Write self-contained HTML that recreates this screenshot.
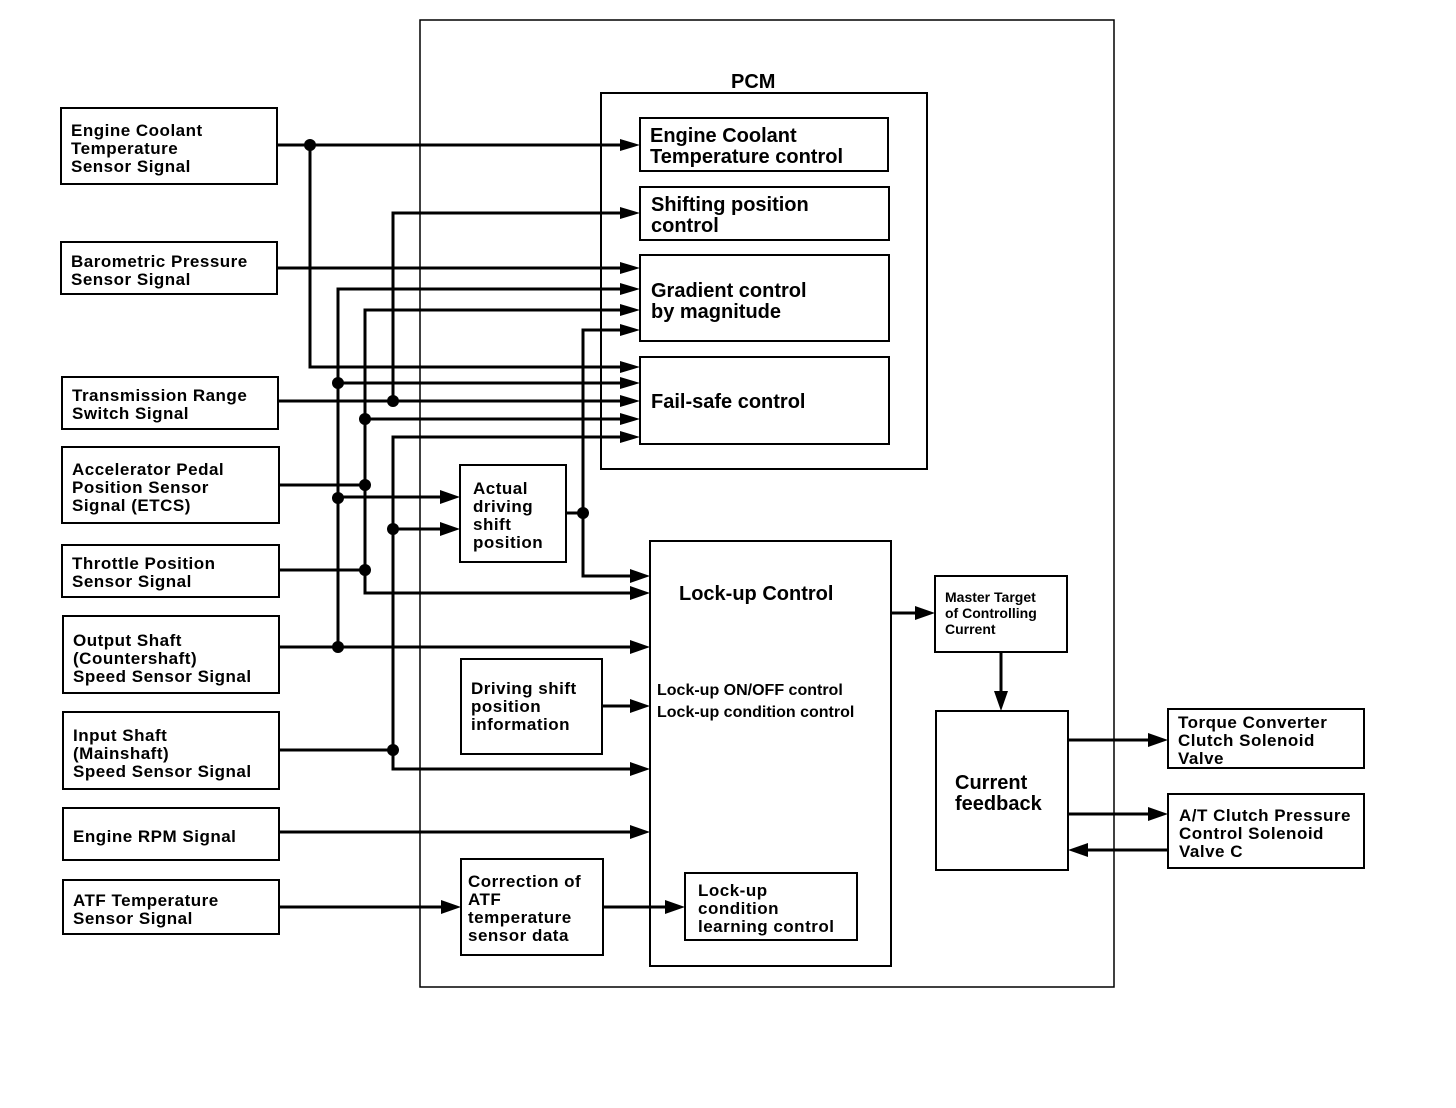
<!DOCTYPE html>
<html><head><meta charset="utf-8"><style>
html,body{margin:0;padding:0;background:#fff;}
svg{display:block;}
text{font-family:"Liberation Sans",Arial,sans-serif;font-weight:bold;fill:#000;}
.s{font-size:17px;letter-spacing:0.5px;}
.m{font-size:20px;}
.t{font-size:14px;}
</style></head><body>
<svg width="1456" height="1108" viewBox="0 0 1456 1108" xmlns="http://www.w3.org/2000/svg">
<g fill="none" stroke="#000" stroke-width="2">
<rect x="420" y="20" width="694" height="967" stroke-width="1.5"/>
<rect x="601" y="93" width="326" height="376"/>
<rect x="640" y="118" width="248" height="53"/>
<rect x="640" y="187" width="249" height="53"/>
<rect x="640" y="255" width="249" height="86"/>
<rect x="640" y="357" width="249" height="87"/>
<rect x="61" y="108" width="216" height="76"/>
<rect x="61" y="242" width="216" height="52"/>
<rect x="62" y="377" width="216" height="52"/>
<rect x="62" y="447" width="217" height="76"/>
<rect x="62" y="545" width="217" height="52"/>
<rect x="63" y="616" width="216" height="77"/>
<rect x="63" y="712" width="216" height="77"/>
<rect x="63" y="808" width="216" height="52"/>
<rect x="63" y="880" width="216" height="54"/>
<rect x="460" y="465" width="106" height="97"/>
<rect x="461" y="659" width="141" height="95"/>
<rect x="461" y="859" width="142" height="96"/>
<rect x="650" y="541" width="241" height="425"/>
<rect x="685" y="873" width="172" height="67"/>
<rect x="935" y="576" width="132" height="76"/>
<rect x="936" y="711" width="132" height="159"/>
<rect x="1168" y="709" width="196" height="59"/>
<rect x="1168" y="794" width="196" height="74"/>
</g>
<g fill="none" stroke="#000" stroke-width="3">
<polyline points="277,145 625,145"/>
<polyline points="310,145 310,367 625,367"/>
<polyline points="277,268 625,268"/>
<polyline points="625,289 338,289 338,647"/>
<polyline points="338,383 625,383"/>
<polyline points="338,497 445,497"/>
<polyline points="625,310 365,310 365,593 635,593"/>
<polyline points="365,419 625,419"/>
<polyline points="279,485 365,485"/>
<polyline points="279,570 365,570"/>
<polyline points="625,213 393,213 393,401"/>
<polyline points="278,401 625,401"/>
<polyline points="625,437 393,437 393,769 635,769"/>
<polyline points="393,529 445,529"/>
<polyline points="279,750 393,750"/>
<polyline points="625,330 583,330 583,576 635,576"/>
<polyline points="566,513 583,513"/>
<polyline points="279,647 635,647"/>
<polyline points="602,706 635,706"/>
<polyline points="279,832 635,832"/>
<polyline points="279,907 445,907"/>
<polyline points="603,907 670,907"/>
<polyline points="891,613 920,613"/>
<polyline points="1001,652 1001,695"/>
<polyline points="1068,740 1152,740"/>
<polyline points="1068,814 1152,814"/>
<polyline points="1168,850 1084,850"/>
</g>
<g fill="#000">
<circle cx="310" cy="145" r="6"/><circle cx="338" cy="383" r="6"/><circle cx="393" cy="401" r="6"/>
<circle cx="365" cy="419" r="6"/><circle cx="365" cy="485" r="6"/><circle cx="338" cy="498" r="6"/>
<circle cx="393" cy="529" r="6"/><circle cx="365" cy="570" r="6"/><circle cx="338" cy="647" r="6"/>
<circle cx="393" cy="750" r="6"/><circle cx="583" cy="513" r="6"/>
<polygon points="620,139 640,145 620,151"/><polygon points="620,207 640,213 620,219"/>
<polygon points="620,262 640,268 620,274"/><polygon points="620,283 640,289 620,295"/>
<polygon points="620,304 640,310 620,316"/><polygon points="620,324 640,330 620,336"/>
<polygon points="620,361 640,367 620,373"/><polygon points="620,377 640,383 620,389"/>
<polygon points="620,395 640,401 620,407"/><polygon points="620,413 640,419 620,425"/>
<polygon points="620,431 640,437 620,443"/>
<polygon points="440,490 460,497 440,504"/><polygon points="440,522 460,529 440,536"/>
<polygon points="630,569 650,576 630,583"/><polygon points="630,586 650,593 630,600"/>
<polygon points="630,640 650,647 630,654"/><polygon points="630,699 650,706 630,713"/>
<polygon points="630,762 650,769 630,776"/><polygon points="630,825 650,832 630,839"/>
<polygon points="441,900 461,907 441,914"/><polygon points="665,900 685,907 665,914"/>
<polygon points="915,606 935,613 915,620"/>
<polygon points="994,691 1001,711 1008,691"/>
<polygon points="1148,733 1168,740 1148,747"/><polygon points="1148,807 1168,814 1148,821"/>
<polygon points="1088,843 1068,850 1088,857"/>
</g>
<text class="m" x="731" y="88">PCM</text>
<text class="m" x="650" y="142">Engine Coolant</text><text class="m" x="650" y="163">Temperature control</text>
<text class="m" x="651" y="211">Shifting position</text><text class="m" x="651" y="232">control</text>
<text class="m" x="651" y="297">Gradient control</text><text class="m" x="651" y="318">by magnitude</text>
<text class="m" x="651" y="408">Fail-safe control</text>
<text class="s" x="71" y="136">Engine Coolant</text><text class="s" x="71" y="154">Temperature</text><text class="s" x="71" y="172">Sensor Signal</text>
<text class="s" x="71" y="267">Barometric Pressure</text><text class="s" x="71" y="285">Sensor Signal</text>
<text class="s" x="72" y="401">Transmission Range</text><text class="s" x="72" y="419">Switch Signal</text>
<text class="s" x="72" y="475">Accelerator Pedal</text><text class="s" x="72" y="493">Position Sensor</text><text class="s" x="72" y="511">Signal (ETCS)</text>
<text class="s" x="72" y="569">Throttle Position</text><text class="s" x="72" y="587">Sensor Signal</text>
<text class="s" x="73" y="646">Output Shaft</text><text class="s" x="73" y="664">(Countershaft)</text><text class="s" x="73" y="682">Speed Sensor Signal</text>
<text class="s" x="73" y="741">Input Shaft</text><text class="s" x="73" y="759">(Mainshaft)</text><text class="s" x="73" y="777">Speed Sensor Signal</text>
<text class="s" x="73" y="842">Engine RPM Signal</text>
<text class="s" x="73" y="906">ATF Temperature</text><text class="s" x="73" y="924">Sensor Signal</text>
<text class="s" x="473" y="494">Actual</text><text class="s" x="473" y="512">driving</text><text class="s" x="473" y="530">shift</text><text class="s" x="473" y="548">position</text>
<text class="s" x="471" y="694">Driving shift</text><text class="s" x="471" y="712">position</text><text class="s" x="471" y="730">information</text>
<text class="s" x="468" y="887">Correction of</text><text class="s" x="468" y="905">ATF</text><text class="s" x="468" y="923">temperature</text><text class="s" x="468" y="941">sensor data</text>
<text class="m" x="679" y="600">Lock-up Control</text>
<text class="s" x="657" y="695" style="font-size:16px;letter-spacing:0">Lock-up ON/OFF control</text>
<text class="s" x="657" y="717" style="font-size:16px;letter-spacing:0">Lock-up condition control</text>
<text class="s" x="698" y="896">Lock-up</text><text class="s" x="698" y="914">condition</text><text class="s" x="698" y="932">learning control</text>
<text class="t" x="945" y="602">Master Target</text><text class="t" x="945" y="618">of Controlling</text><text class="t" x="945" y="634">Current</text>
<text class="m" x="955" y="789">Current</text><text class="m" x="955" y="810">feedback</text>
<text class="s" x="1178" y="728">Torque Converter</text><text class="s" x="1178" y="746">Clutch Solenoid</text><text class="s" x="1178" y="764">Valve</text>
<text class="s" x="1179" y="821">A/T Clutch Pressure</text><text class="s" x="1179" y="839">Control Solenoid</text><text class="s" x="1179" y="857">Valve C</text>
</svg>
</body></html>
